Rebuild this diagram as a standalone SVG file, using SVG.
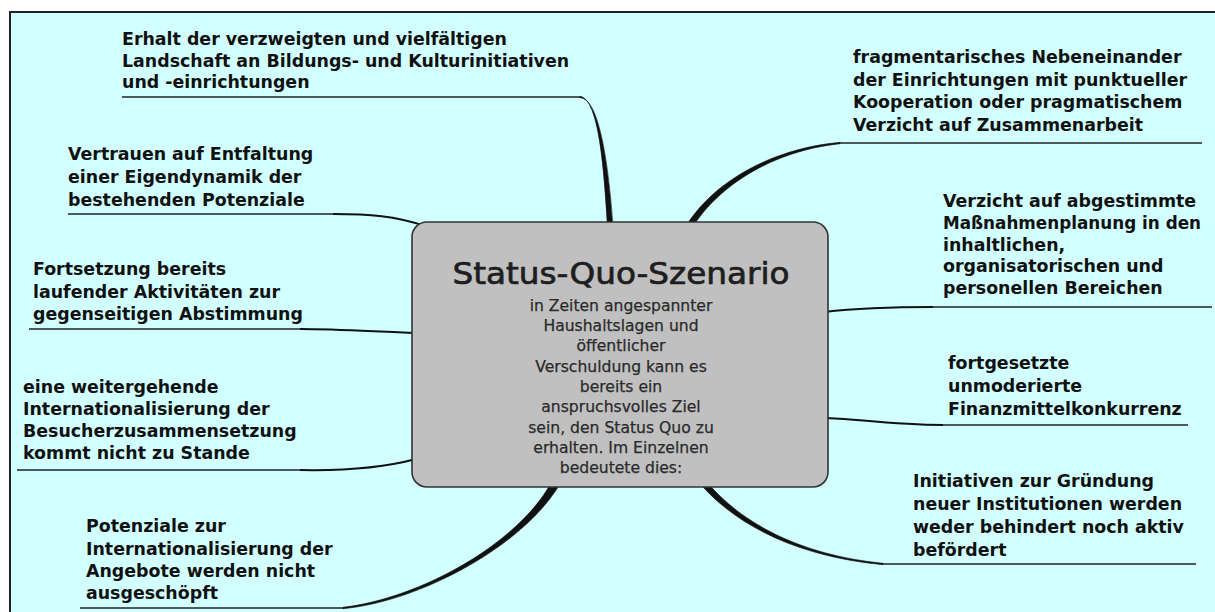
<svg xmlns="http://www.w3.org/2000/svg" width="1215" height="612" viewBox="0 0 1215 612">
<style>
.lbl{font-family:"DejaVu Sans",Verdana,sans-serif;font-weight:bold;font-size:17.4px;fill:#111}
.ttl{font-family:"DejaVu Sans",Verdana,sans-serif;font-size:30px;fill:#1e1e1e;stroke:#1e1e1e;stroke-width:0.7;text-anchor:middle}
.body{font-family:"DejaVu Sans",Verdana,sans-serif;font-size:15.6px;fill:#2a2a2a;stroke:#2a2a2a;stroke-width:0.25;text-anchor:middle}
.ul{stroke:#222;stroke-width:1.6;fill:none}
.thin{stroke:#111;stroke-width:2;fill:none}
.thick{fill:#111;stroke:#111;stroke-width:0.6}
</style>
<rect x="0" y="0" width="1215" height="612" fill="#ffffff"/>
<rect x="10" y="12" width="1205" height="600" fill="#d2ffff"/>
<path d="M10,612 L10,12 L1215,12" fill="none" stroke="#222" stroke-width="2"/>
<g id="connectors">
  <line class="ul" x1="122" y1="97" x2="581" y2="97"/>
  <path class="thick" d="M580,96.3 C599,99 604,170 607.5,226 L613,226 C609,170 600,98 580,97.7 Z"/>
  <line class="ul" x1="68" y1="214" x2="334" y2="214"/>
  <path class="thin" d="M333,214 C370,214 395,216 425,226"/>
  <line class="ul" x1="29" y1="329" x2="301" y2="329"/>
  <path class="thin" d="M300,329 C340,329 380,332 416,333"/>
  <line class="ul" x1="17" y1="470" x2="301" y2="470"/>
  <path class="thin" d="M300,470 C350,471 390,466 416,459"/>
  <line class="ul" x1="80" y1="608" x2="344" y2="608"/>
  <path class="thick" d="M343,607.3 C420,598.5 518,543.5 551,483 L559,485.5 C522,546.5 420,601.5 343,608.7 Z"/>
  <line class="ul" x1="839" y1="143" x2="1202" y2="143"/>
  <path class="thick" d="M840,142.3 C768,149 712,184 686,226 L692,228 C718,186 772,151 840,143.7 Z"/>
  <line class="ul" x1="932" y1="307" x2="1212" y2="307"/>
  <path class="thin" d="M933,307 C890,307 850,309 824,312"/>
  <line class="ul" x1="942" y1="425" x2="1188" y2="425"/>
  <path class="thin" d="M943,425 C890,425 850,418 824,418"/>
  <line class="ul" x1="882" y1="564" x2="1196" y2="564"/>
  <path class="thick" d="M883,563.3 C800,555 741,523 707,482 L702,486 C739,527 800,557 883,564.7 Z"/>
</g>
<g id="center">
  <rect x="412" y="222" width="416" height="265" rx="15" ry="15" fill="#c0c0c0" stroke="#333" stroke-width="1.6"/>
  <text class="ttl" x="621" y="284" textLength="337" lengthAdjust="spacingAndGlyphs">Status-Quo-Szenario</text>
  <text class="body" x="621" y="311">in Zeiten angespannter</text>
  <text class="body" x="621" y="331">Haushaltslagen und</text>
  <text class="body" x="621" y="351">öffentlicher</text>
  <text class="body" x="621" y="372">Verschuldung kann es</text>
  <text class="body" x="621" y="392">bereits ein</text>
  <text class="body" x="621" y="412">anspruchsvolles Ziel</text>
  <text class="body" x="621" y="433">sein, den Status Quo zu</text>
  <text class="body" x="621" y="453">erhalten. Im Einzelnen</text>
  <text class="body" x="621" y="473">bedeutete dies:</text>
</g>
<g id="n1"><text class="lbl" x="122" y="45">Erhalt der verzweigten und vielfältigen</text><text class="lbl" x="122" y="67">Landschaft an Bildungs- und Kulturinitiativen</text><text class="lbl" x="122" y="88">und -einrichtungen</text></g>
<g id="n2"><text class="lbl" x="68" y="160">Vertrauen auf Entfaltung</text><text class="lbl" x="68" y="183">einer Eigendynamik der</text><text class="lbl" x="68" y="206">bestehenden Potenziale</text></g>
<g id="n3"><text class="lbl" x="33" y="275">Fortsetzung bereits</text><text class="lbl" x="33" y="298">laufender Aktivitäten zur</text><text class="lbl" x="33" y="320">gegenseitigen Abstimmung</text></g>
<g id="n4"><text class="lbl" x="23" y="393">eine weitergehende</text><text class="lbl" x="23" y="415">Internationalisierung der</text><text class="lbl" x="23" y="437">Besucherzusammensetzung</text><text class="lbl" x="23" y="459">kommt nicht zu Stande</text></g>
<g id="n5"><text class="lbl" x="86" y="532">Potenziale zur</text><text class="lbl" x="86" y="555">Internationalisierung der</text><text class="lbl" x="86" y="577">Angebote werden nicht</text><text class="lbl" x="86" y="599">ausgeschöpft</text></g>
<g id="n6"><text class="lbl" x="853" y="63">fragmentarisches Nebeneinander</text><text class="lbl" x="853" y="86">der Einrichtungen mit punktueller</text><text class="lbl" x="853" y="108">Kooperation oder pragmatischem</text><text class="lbl" x="853" y="131">Verzicht auf Zusammenarbeit</text></g>
<g id="n7"><text class="lbl" x="943" y="207">Verzicht auf abgestimmte</text><text class="lbl" x="943" y="229" textLength="258" lengthAdjust="spacingAndGlyphs">Maßnahmenplanung in den</text><text class="lbl" x="943" y="251">inhaltlichen,</text><text class="lbl" x="943" y="272">organisatorischen und</text><text class="lbl" x="943" y="294">personellen Bereichen</text></g>
<g id="n8"><text class="lbl" x="948" y="369">fortgesetzte</text><text class="lbl" x="948" y="392">unmoderierte</text><text class="lbl" x="948" y="415">Finanzmittelkonkurrenz</text></g>
<g id="n9"><text class="lbl" x="913" y="487">Initiativen zur Gründung</text><text class="lbl" x="913" y="510">neuer Institutionen werden</text><text class="lbl" x="913" y="533">weder behindert noch aktiv</text><text class="lbl" x="913" y="556">befördert</text></g>
</svg>
